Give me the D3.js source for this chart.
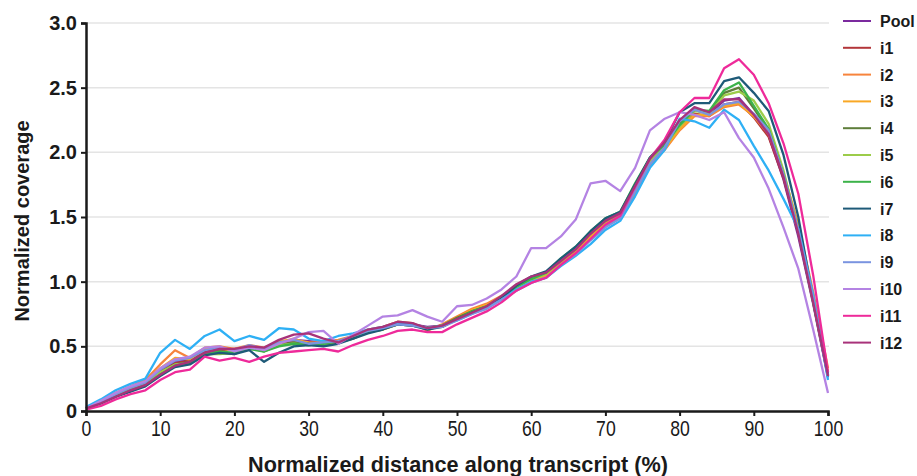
<!DOCTYPE html>
<html><head><meta charset="utf-8">
<script src="https://cdn.jsdelivr.net/npm/d3@7"></script>
<style>
body{margin:0;background:#fff;}
text{font-family:Arial,"Liberation Sans",sans-serif;fill:#1a1a1a;}
</style></head>
<body><svg id="c" width="917" height="476"></svg>
<script>
const xPos = d3.range(0, 101, 2);
const seriesNames = ["Pool","i1","i2","i3","i4","i5","i6","i7","i8","i9","i10","i11","i12"];
const seriesColors = ["#7b2a9e","#b3363a","#f7843c","#f9a825","#5e7e3a","#9ccc4a","#3cb34a","#1e5a78","#2eb0f5","#7a94e0","#b483e3","#ee2a9a","#a8327a"];
const pool = [0.02,0.07,0.13,0.18,0.22,0.31,0.38,0.40,0.47,0.48,0.47,0.50,0.48,0.53,0.55,0.54,0.53,0.53,0.58,0.62,0.64,0.68,0.67,0.65,0.66,0.72,0.77,0.81,0.88,0.97,1.03,1.06,1.16,1.24,1.36,1.46,1.52,1.73,1.94,2.06,2.21,2.33,2.30,2.40,2.42,2.29,2.13,1.79,1.35,0.83,0.26];
const i1 = [0.02,0.07,0.12,0.17,0.21,0.30,0.37,0.39,0.46,0.47,0.48,0.49,0.47,0.52,0.54,0.53,0.52,0.54,0.57,0.61,0.64,0.67,0.66,0.64,0.66,0.71,0.76,0.81,0.88,0.96,1.02,1.05,1.15,1.23,1.34,1.44,1.50,1.70,1.92,2.04,2.18,2.30,2.28,2.37,2.39,2.27,2.12,1.80,1.38,0.86,0.27];
const i2 = [0.02,0.08,0.14,0.19,0.24,0.36,0.47,0.41,0.49,0.50,0.48,0.51,0.49,0.53,0.56,0.52,0.54,0.55,0.58,0.63,0.65,0.69,0.68,0.62,0.67,0.73,0.79,0.83,0.89,0.96,1.01,1.05,1.14,1.22,1.33,1.43,1.49,1.68,1.90,2.02,2.17,2.28,2.28,2.35,2.37,2.28,2.14,1.84,1.44,0.92,0.33];
const i3 = [0.02,0.07,0.13,0.18,0.22,0.33,0.41,0.40,0.48,0.49,0.46,0.50,0.48,0.54,0.55,0.53,0.52,0.54,0.57,0.62,0.63,0.67,0.67,0.64,0.66,0.72,0.78,0.82,0.87,0.95,1.01,1.05,1.15,1.23,1.35,1.45,1.51,1.71,1.93,2.03,2.18,2.29,2.29,2.36,2.38,2.28,2.15,1.83,1.42,0.89,0.30];
const i4 = [0.02,0.06,0.12,0.16,0.20,0.29,0.36,0.38,0.45,0.45,0.44,0.49,0.46,0.51,0.53,0.52,0.51,0.53,0.56,0.61,0.63,0.68,0.67,0.64,0.66,0.72,0.77,0.81,0.87,0.97,1.03,1.07,1.17,1.26,1.38,1.48,1.53,1.74,1.95,2.07,2.22,2.33,2.31,2.46,2.50,2.34,2.17,1.82,1.38,0.84,0.27];
const i5 = [0.02,0.07,0.12,0.17,0.21,0.30,0.36,0.37,0.44,0.44,0.45,0.48,0.47,0.51,0.52,0.51,0.52,0.53,0.57,0.61,0.63,0.67,0.67,0.64,0.65,0.71,0.76,0.80,0.87,0.96,1.02,1.06,1.16,1.25,1.37,1.47,1.52,1.73,1.94,2.05,2.20,2.32,2.30,2.44,2.47,2.40,2.22,1.86,1.40,0.86,0.28];
const i6 = [0.02,0.06,0.11,0.16,0.20,0.28,0.35,0.37,0.44,0.46,0.45,0.48,0.46,0.50,0.52,0.51,0.52,0.54,0.57,0.61,0.64,0.67,0.66,0.64,0.66,0.71,0.77,0.81,0.87,0.96,1.02,1.07,1.18,1.27,1.39,1.49,1.54,1.76,1.96,2.06,2.21,2.33,2.32,2.48,2.54,2.36,2.18,1.83,1.39,0.85,0.28];
const i7 = [0.02,0.06,0.11,0.15,0.19,0.27,0.34,0.36,0.43,0.45,0.44,0.47,0.38,0.45,0.50,0.51,0.50,0.52,0.56,0.60,0.63,0.67,0.66,0.63,0.65,0.71,0.76,0.80,0.87,0.97,1.04,1.08,1.18,1.27,1.39,1.49,1.54,1.75,1.96,2.08,2.31,2.38,2.38,2.55,2.58,2.46,2.32,1.98,1.50,0.86,0.28];
const i8 = [0.03,0.09,0.16,0.21,0.25,0.45,0.55,0.48,0.58,0.63,0.54,0.58,0.55,0.64,0.63,0.56,0.54,0.58,0.60,0.63,0.65,0.68,0.67,0.64,0.66,0.70,0.75,0.80,0.86,0.94,1.00,1.03,1.12,1.20,1.29,1.40,1.47,1.66,1.88,2.02,2.26,2.24,2.19,2.33,2.25,2.05,1.86,1.64,1.41,0.90,0.24];
const i9 = [0.02,0.07,0.13,0.18,0.22,0.32,0.39,0.41,0.47,0.49,0.47,0.51,0.48,0.53,0.55,0.52,0.53,0.54,0.58,0.62,0.64,0.67,0.66,0.64,0.65,0.70,0.75,0.79,0.86,0.93,0.99,1.03,1.13,1.21,1.32,1.42,1.49,1.70,1.91,2.04,2.24,2.33,2.29,2.37,2.39,2.30,2.17,1.83,1.40,0.87,0.27];
const i10 = [0.02,0.08,0.14,0.19,0.23,0.33,0.40,0.42,0.49,0.50,0.46,0.49,0.47,0.52,0.56,0.61,0.62,0.52,0.59,0.66,0.73,0.74,0.78,0.73,0.69,0.81,0.82,0.87,0.94,1.04,1.26,1.26,1.35,1.48,1.76,1.78,1.70,1.88,2.17,2.26,2.31,2.29,2.25,2.31,2.11,1.96,1.72,1.42,1.10,0.63,0.14];
const i11 = [0.01,0.04,0.09,0.13,0.16,0.24,0.30,0.32,0.42,0.39,0.41,0.38,0.42,0.45,0.46,0.47,0.48,0.46,0.51,0.55,0.58,0.62,0.63,0.61,0.61,0.67,0.72,0.77,0.84,0.93,0.99,1.03,1.13,1.22,1.33,1.44,1.51,1.73,1.95,2.10,2.31,2.42,2.42,2.65,2.72,2.60,2.38,2.07,1.68,1.05,0.30];
const i12 = [0.02,0.06,0.11,0.16,0.20,0.28,0.35,0.38,0.45,0.48,0.48,0.50,0.49,0.55,0.59,0.60,0.56,0.53,0.58,0.63,0.65,0.69,0.68,0.64,0.66,0.71,0.76,0.81,0.89,0.98,1.04,1.07,1.16,1.25,1.37,1.47,1.53,1.74,1.95,2.08,2.25,2.35,2.31,2.41,2.41,2.29,2.14,1.81,1.37,0.84,0.27];
const seriesValues = [pool,i1,i2,i3,i4,i5,i6,i7,i8,i9,i10,i11,i12];
const xTicks = [0,10,20,30,40,50,60,70,80,90,100];
const yTicks = [0,0.5,1.0,1.5,2.0,2.5,3.0];

const svg = d3.select("#c");
const m = {left:86, right:828, top:23, bottom:411};
const x = d3.scaleLinear().domain([0,100]).range([m.left, m.right]);
const y = d3.scaleLinear().domain([0,3]).range([m.bottom, m.top]);

// gridlines
svg.append("g").selectAll("line").data(yTicks.filter(d=>d>0)).join("line")
  .attr("x1", m.left).attr("x2", m.right+1)
  .attr("y1", d=>y(d)).attr("y2", d=>y(d))
  .attr("stroke", "#e4e4e4").attr("stroke-width", 1.5);

// lines
const line = d3.line().x((d,i)=>x(xPos[i])).y(d=>y(d));
svg.append("g").selectAll("path").data(seriesValues).join("path")
  .attr("d", d=>line(d))
  .attr("fill","none")
  .attr("stroke",(d,i)=>seriesColors[i])
  .attr("stroke-width",2.3)
  .attr("stroke-linejoin","round");

// axes
const xAxis = svg.append("g").attr("transform",`translate(0,${m.bottom})`)
  .call(d3.axisBottom(x).tickValues(xTicks).tickSize(5).tickPadding(4).tickFormat(d3.format("d")));
const yAxis = svg.append("g").attr("transform",`translate(${m.left},0)`)
  .call(d3.axisLeft(y).tickValues(yTicks).tickSize(5).tickPadding(4).tickFormat(d=>d===0?"0":d3.format(".1f")(d)));
[xAxis,yAxis].forEach(a=>{
  a.select(".domain").attr("stroke","#1a1a1a").attr("stroke-width",2.5);
  a.selectAll(".tick line").attr("stroke","#1a1a1a").attr("stroke-width",2);
});
xAxis.selectAll(".tick text")
  .attr("font-family","Arial,'Liberation Sans',sans-serif")
  .attr("font-size",22).attr("fill","#1a1a1a")
  .attr("textLength",d=>String(d).length*9.8).attr("lengthAdjust","spacingAndGlyphs");
yAxis.selectAll(".tick text").attr("font-family","Arial,'Liberation Sans',sans-serif")
  .attr("font-size",20).attr("font-weight",600).attr("fill","#1a1a1a");

// axis titles
svg.append("text").attr("x",458).attr("y",472)
  .attr("text-anchor","middle").attr("font-size",22).attr("font-weight","bold")
  .attr("textLength",420).attr("lengthAdjust","spacingAndGlyphs")
  .text("Normalized distance along transcript (%)");
svg.append("text").attr("transform",`translate(29,${(m.top+m.bottom)/2+4}) rotate(-90)`)
  .attr("text-anchor","middle").attr("font-size",20).attr("font-weight","bold")
  .text("Normalized coverage");

// legend
const leg = svg.append("g").selectAll("g").data(seriesNames).join("g")
  .attr("transform",(d,i)=>`translate(843,${21+i*26.8})`);
leg.append("line").attr("x1",0).attr("x2",28).attr("y1",0).attr("y2",0)
  .attr("stroke",(d,i)=>seriesColors[i]).attr("stroke-width",2);
leg.append("text").attr("x",37).attr("y",6).attr("font-size",16).attr("font-weight",600)
  .text(d=>d);
</script></body></html>
